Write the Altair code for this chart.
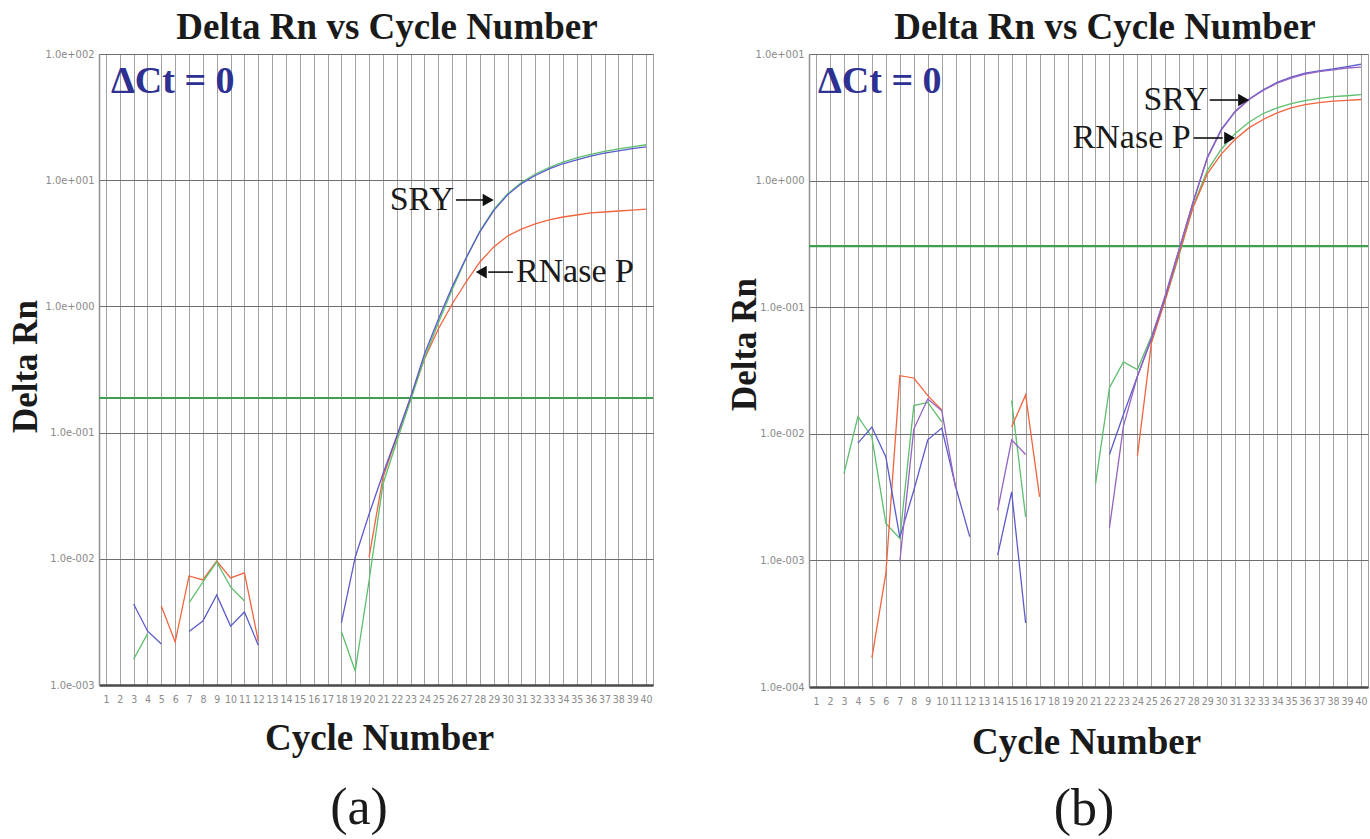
import altair as alt
import pandas as pd

N = None
CYCLES = list(range(1, 41))

# ---------------- Panel (a) ----------------
A_GREEN = [N, N, 0.0016, 0.00254, N, N, 0.00447, 0.00655, 0.00944, 0.00598,
           0.00463, N, N, N, N, N, N, 0.00265, 0.00129, 0.0067,
           0.039, 0.085, 0.18, 0.39, 0.74, 1.36, 2.4, 3.95, 5.85, 7.8,
           9.6, 11.2, 12.6, 13.9, 15.0, 16.0, 16.9, 17.7, 18.4, 19.1]
A_BLUE = [N, N, 0.00438, 0.00268, 0.00211, N, 0.00265, 0.00321, 0.00517, 0.00293,
          0.00379, 0.00207, N, N, N, N, N, 0.0031, 0.0103, 0.0226,
          0.047, 0.094, 0.191, 0.42, 0.79, 1.43, 2.42, 3.9, 5.75, 7.65,
          9.4, 10.9, 12.3, 13.5, 14.5, 15.5, 16.4, 17.1, 17.8, 18.4]
A_ORANGE = [N, N, N, N, 0.00422, 0.00219, 0.00731, 0.0068, 0.0096, 0.00706,
            0.00775, 0.00223, N, N, N, N, N, N, N, 0.0103,
            0.044, 0.092, 0.19, 0.383, 0.662, 1.045, 1.56, 2.25, 2.96, 3.61,
            4.10, 4.50, 4.84, 5.11, 5.30, 5.50, 5.60, 5.70, 5.80, 5.91]
A_THRESHOLD = 0.188

# ---------------- Panel (b) ----------------
B_GREEN = [N, N, 0.00484, 0.0137, 0.0094, 0.00196, 0.00149, 0.0167, 0.0177, 0.0124,
           N, N, N, N, 0.0183, 0.00221, N, N, N, N,
           0.0040, 0.0231, 0.037, 0.0322, 0.059, 0.115, 0.26, 0.64, 1.2, 1.77,
           2.36, 2.9, 3.39, 3.75, 4.06, 4.28, 4.47, 4.61, 4.68, 4.77]
B_BLUE = [N, N, N, 0.00845, 0.0113, 0.00656, 0.00152, 0.00358, 0.00897, 0.0111,
          0.00381, 0.00154, N, 0.0011, 0.00348, 0.00032, N, N, N, N,
          N, 0.00687, 0.0142, 0.0285, 0.0556, 0.122, 0.29, 0.68, 1.52, 2.54,
          3.53, 4.41, 5.22, 5.96, 6.56, 7.06, 7.36, 7.63, 7.96, 8.30]
B_PURPLE = [N, N, N, N, N, N, 0.00098, 0.0109, 0.0188, 0.0152,
            0.0037, N, N, 0.00249, 0.00897, 0.00687, N, N, N, N,
            N, 0.00181, 0.0115, 0.0285, 0.057, 0.125, 0.29, 0.69, 1.5, 2.5,
            3.5, 4.38, 5.15, 5.88, 6.45, 6.95, 7.25, 7.5, 7.75, 7.87]
B_ORANGE = [N, N, N, N, 0.00017, 0.00079, 0.0288, 0.0276, 0.02, 0.0154,
            N, N, N, N, 0.0113, 0.0203, 0.00318, N, N, N,
            N, N, N, 0.00667, 0.052, 0.115, 0.27, 0.62, 1.13, 1.62,
            2.12, 2.62, 3.04, 3.43, 3.75, 3.98, 4.13, 4.24, 4.31, 4.37]
B_THRESHOLD = 0.304

A_YTICKS = [0.001, 0.01, 0.1, 1, 10, 100]
B_YTICKS = [0.0001, 0.001, 0.01, 0.1, 1, 10]
YTICK_LABELS = ["1.0e-004", "1.0e-003", "1.0e-002", "1.0e-001",
                "1.0e+000", "1.0e+001", "1.0e+002"]

SERIES_NAMES = ["green", "orange", "blue", "purple"]
SERIES_COLORS = ["#5cbf6c", "#f2643e", "#5b5bcc", "#9563c2"]
THRESH_COLOR = "#3f9e4f"
SERIF = "Liberation Serif"
NARROW = "Liberation Sans Narrow, DejaVu Sans Condensed, Liberation Sans, sans-serif"


def build_frame(series):
    rows = []
    seg = 0
    for k, (name, vals) in enumerate(series):
        assert len(vals) == 40
        prev = None
        for c, v in zip(CYCLES, vals):
            if v is None:
                prev = None
                continue
            if prev is None:
                seg += 1
            rows.append({"cycle": c, "value": v, "series": name,
                         "seg": f"{k}_{name}_{seg:02d}"})
            prev = v
    return pd.DataFrame(rows)


def panel(series, ymin, ymax, yticks, thresh, w, h, title_dx, title_dy,
          ytitle_x, ytitle_y, xtitle_x, xtitle_y, ann, letter, letter_x, letter_y,
          dct_x, dct_y):
    df = build_frame(series)
    label_expr = ("['" + "','".join(YTICK_LABELS) + "'][round(log(datum.value)/LN10)+4]")
    xscale = alt.Scale(domain=[0.5, 40.5], nice=False, zero=False)
    yscale = alt.Scale(type="log", domain=[ymin, ymax], nice=False)

    lines = alt.Chart(df).mark_line(strokeWidth=1.3).encode(
        x=alt.X("cycle:Q", scale=xscale,
                axis=alt.Axis(values=CYCLES, tickCount=len(CYCLES), grid=True,
                              gridColor="#a3a3a3", gridWidth=1,
                              ticks=False, labelAngle=0, labelOverlap=False,
                              labelFont=NARROW, labelFontSize=10.5, labelColor="#8a8a8a",
                              labelPadding=9, domainColor="#4a4a4a", domainWidth=2.5,
                              title="Cycle Number", titleFont=SERIF, titleFontSize=37,
                              titleFontWeight="bold", titleColor="#1a1a1a",
                              titleX=xtitle_x, titleY=xtitle_y, titleBaseline="alphabetic",
                              titleAlign="center")),
        y=alt.Y("value:Q", scale=yscale,
                axis=alt.Axis(values=yticks, tickCount=len(yticks), labelExpr=label_expr,
                              grid=True, gridColor="#6e6e6e", gridWidth=1, ticks=False,
                              labelFont=NARROW, labelFontSize=11, labelColor="#8a8a8a",
                              labelPadding=5, domainColor="#8f8f8f", domainWidth=1.5,
                              title="Delta Rn", titleFont=SERIF, titleFontSize=35,
                              titleFontWeight="bold", titleColor="#1a1a1a",
                              titleAngle=270, titleX=ytitle_x, titleY=ytitle_y,
                              titleBaseline="alphabetic", titleAlign="center")),
        color=alt.Color("series:N",
                        scale=alt.Scale(domain=SERIES_NAMES, range=SERIES_COLORS),
                        legend=None),
        detail="seg:N",
        order=alt.Order("cycle:Q"),
    )

    thr = alt.Chart(pd.DataFrame({"value": [thresh]})).mark_rule(
        color=THRESH_COLOR, strokeWidth=2.2).encode(y="value:Q")

    tdf = pd.DataFrame(ann["text"])
    t_left = alt.Chart(tdf[tdf["align"] == "left"]).mark_text(
        font=SERIF, fontSize=34, color="#1a1a1a", baseline="middle", align="left").encode(
        x="cycle:Q", y="value:Q", text="label:N")
    t_right = alt.Chart(tdf[tdf["align"] == "right"]).mark_text(
        font=SERIF, fontSize=34, color="#1a1a1a", baseline="middle", align="right").encode(
        x="cycle:Q", y="value:Q", text="label:N")
    rdf = pd.DataFrame(ann["rule"])
    arrows = alt.Chart(rdf).mark_rule(color="#111", strokeWidth=1.6).encode(
        x="cycle:Q", x2="cycle2:Q", y="value:Q")
    hdf = pd.DataFrame(ann["head"])
    h_right = alt.Chart(hdf[hdf["dir"] == "right"]).mark_point(
        shape="triangle-right", filled=True, color="#111", size=160, opacity=1).encode(
        x="cycle:Q", y="value:Q")
    h_left = alt.Chart(hdf[hdf["dir"] == "left"]).mark_point(
        shape="triangle-left", filled=True, color="#111", size=160, opacity=1).encode(
        x="cycle:Q", y="value:Q")

    one = pd.DataFrame({"k": [0]})
    title = alt.Chart(one).mark_text(text="Delta Rn vs Cycle Number", font=SERIF,
                                     fontSize=37, fontWeight="bold", color="#1a1a1a",
                                     align="center", baseline="alphabetic").encode(
        x=alt.value(title_dx), y=alt.value(title_dy))
    dct = alt.Chart(one).mark_text(text="\u0394Ct = 0", font=SERIF, fontSize=38,
                                   fontWeight="bold", color="#2e3192", align="left",
                                   baseline="alphabetic").encode(
        x=alt.value(dct_x), y=alt.value(dct_y))
    lab = alt.Chart(one).mark_text(text=letter, font=SERIF, fontSize=52, color="#1a1a1a",
                                   align="center", baseline="alphabetic").encode(
        x=alt.value(letter_x), y=alt.value(letter_y))

    layers = [thr, lines, arrows]
    if (hdf["dir"] == "right").any():
        layers.append(h_right)
    if (hdf["dir"] == "left").any():
        layers.append(h_left)
    if (tdf["align"] == "left").any():
        layers.append(t_left)
    if (tdf["align"] == "right").any():
        layers.append(t_right)
    layers += [title, dct, lab]
    return alt.layer(*layers).properties(width=w, height=h)


ann_a = {
    "text": [{"cycle": 26.13, "value": 6.97, "label": "SRY", "align": "right"},
             {"cycle": 30.6, "value": 1.87, "label": "RNase P", "align": "left"}],
    "rule": [{"cycle": 26.27, "cycle2": 28.3, "value": 6.97},
             {"cycle": 28.6, "cycle2": 30.39, "value": 1.87}],
    "head": [{"cycle": 28.6, "value": 6.97, "dir": "right"},
             {"cycle": 28.1, "value": 1.87, "dir": "left"}],
}
ann_b = {
    "text": [{"cycle": 29.03, "value": 4.33, "label": "SRY", "align": "right"},
             {"cycle": 27.81, "value": 2.17, "label": "RNase P", "align": "right"}],
    "rule": [{"cycle": 29.17, "cycle2": 31.2, "value": 4.33},
             {"cycle": 28.03, "cycle2": 30.1, "value": 2.17}],
    "head": [{"cycle": 31.6, "value": 4.33, "dir": "right"},
             {"cycle": 30.6, "value": 2.17, "dir": "right"}],
}

pa = panel([("orange", A_ORANGE), ("green", A_GREEN), ("blue", A_BLUE)],
           0.001, 100, A_YTICKS, A_THRESHOLD, 554, 631,
           title_dx=288, title_dy=-15, ytitle_x=-63, ytitle_y=312,
           xtitle_x=280, xtitle_y=64, ann=ann_a, letter="(a)", letter_x=260,
           letter_y=770, dct_x=12, dct_y=39)
pb = panel([("green", B_GREEN), ("orange", B_ORANGE), ("blue", B_BLUE), ("purple", B_PURPLE)],
           0.0001, 10, B_YTICKS, B_THRESHOLD, 559, 633,
           title_dx=296, title_dy=-15, ytitle_x=-54, ytitle_y=290,
           xtitle_x=277, xtitle_y=66, ann=ann_b, letter="(b)", letter_x=275,
           letter_y=771, dct_x=9, dct_y=39)

chart = alt.hconcat(pa, pb, spacing=71).properties(
    padding={"left": 7, "top": 8, "right": 0, "bottom": 0}, background="white"
).configure_view(stroke="#a0a0a0", strokeWidth=1)

chart.save("out.html", embed_options={"renderer": "svg", "actions": False})
